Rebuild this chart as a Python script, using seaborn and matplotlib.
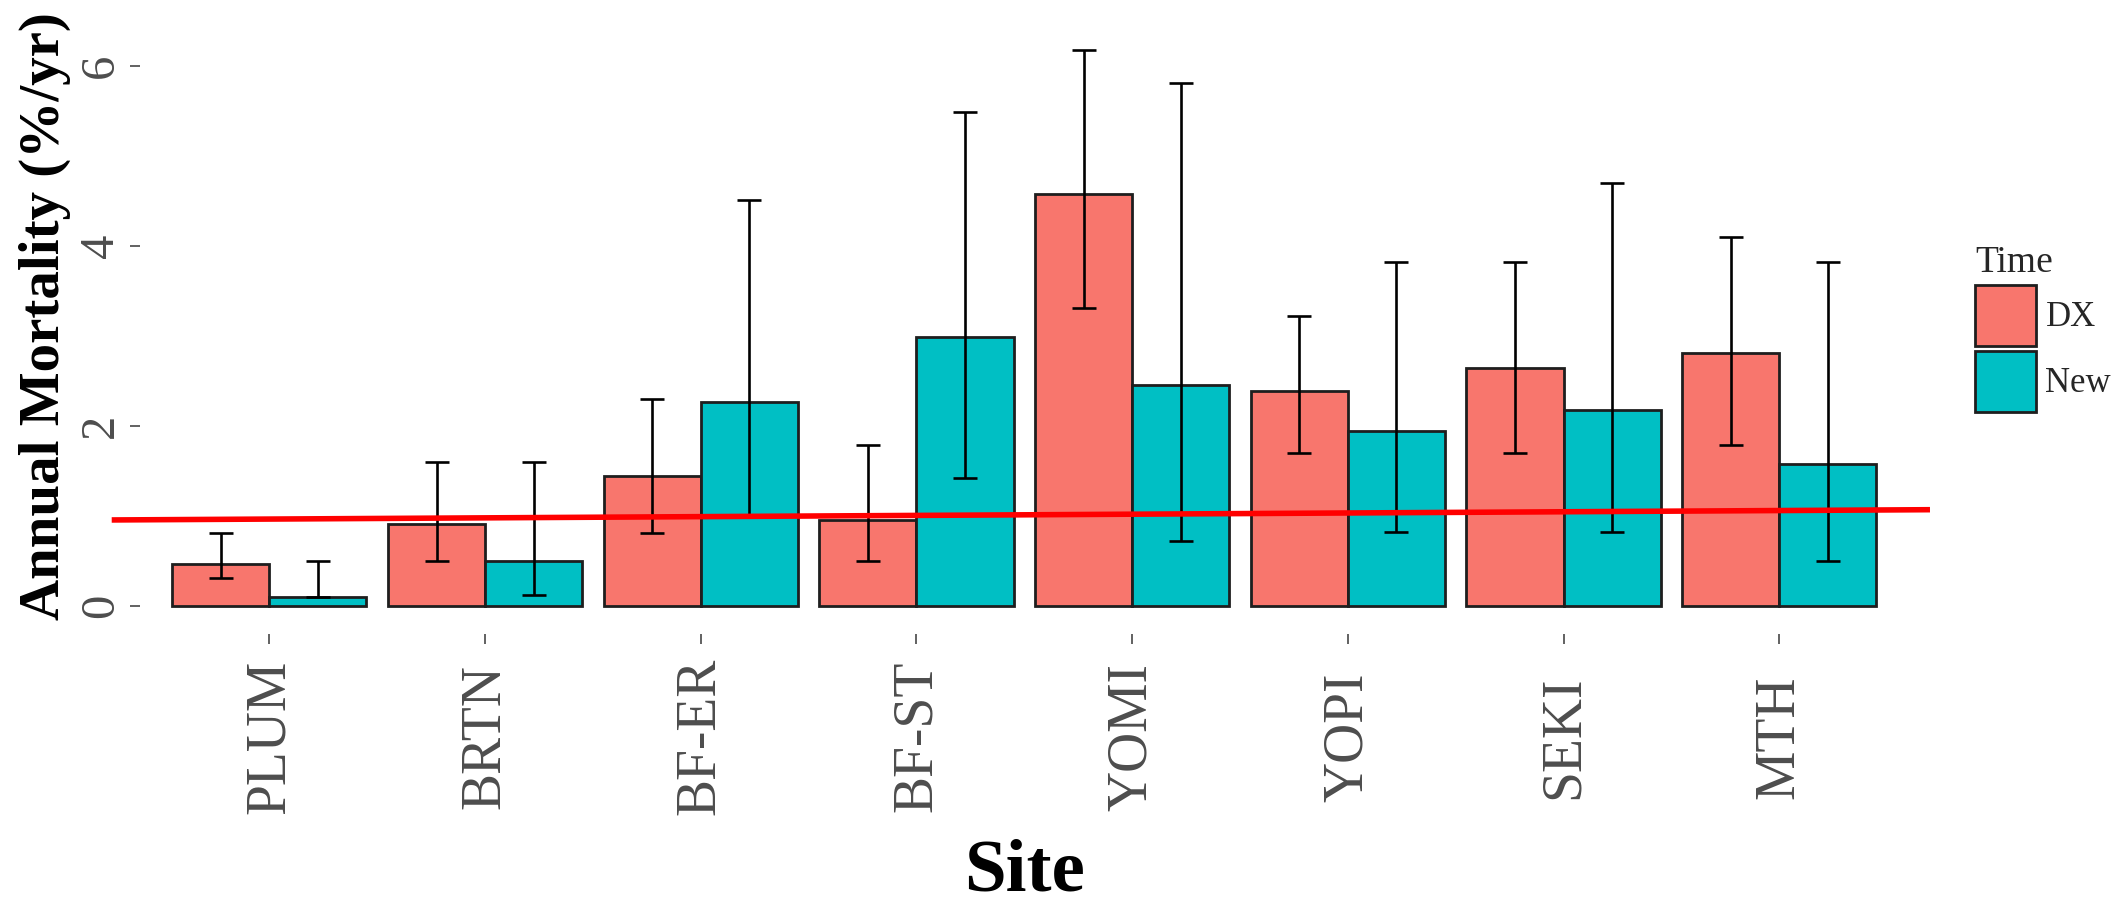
import matplotlib
matplotlib.use("Agg")
import matplotlib.pyplot as plt
import seaborn as sns
import pandas as pd

# Annual mortality by site, old (DX) and new census periods
sites = ["PLUM", "BRTN", "BF-ER", "BF-ST", "YOMI", "YOPI", "SEKI", "MTH"]
time_levels = ["DX", "New"]

dx_mean = [0.47, 0.91, 1.45, 0.96, 4.58, 2.39, 2.65, 2.81]
dx_low = [0.31, 0.50, 0.81, 0.50, 3.31, 1.70, 1.70, 1.79]
dx_high = [0.81, 1.60, 2.30, 1.79, 6.18, 3.22, 3.82, 4.10]

new_mean = [0.10, 0.50, 2.27, 2.99, 2.46, 1.95, 2.18, 1.58]
new_low = [0.10, 0.12, 1.00, 1.42, 0.72, 0.82, 0.82, 0.50]
new_high = [0.50, 1.60, 4.51, 5.49, 5.81, 3.82, 4.70, 3.82]

# Reference line endpoints (site-index units, %/yr)
ref_x = [-0.731, 7.699]
ref_y = [0.958, 1.072]

y_ticks = [0, 2, 4, 6]

palette = {"DX": "#F8766D", "New": "#00BFC4"}

df = pd.DataFrame({
    "Site": sites + sites,
    "Time": ["DX"] * len(sites) + ["New"] * len(sites),
    "Mortality": dx_mean + new_mean,
})

sns.set_style("white")
plt.rcParams["font.family"] = ["Liberation Serif", "DejaVu Serif"]

fig = plt.figure(figsize=(21.24, 9.07), dpi=100)
ax = fig.add_axes([0.0659, 0.30099, 0.8327, 0.67475])

sns.barplot(
    data=df, x="Site", y="Mortality", hue="Time",
    order=sites, hue_order=time_levels, palette=palette, saturation=1,
    width=0.9, errorbar=None, edgecolor="#1e1e1e", linewidth=2.0,
    ax=ax,
)

# asymmetric error bars centred on each bar
stats = {"DX": (dx_mean, dx_low, dx_high), "New": (new_mean, new_low, new_high)}
bar_containers = list(ax.containers)
for container, level in zip(bar_containers, time_levels):
    mean, low, high = stats[level]
    xs = [b.get_x() + b.get_width() / 2 for b in container]
    yerr = [[m - l for m, l in zip(mean, low)], [h - m for m, h in zip(mean, high)]]
    ax.errorbar(xs, mean, yerr=yerr, fmt="none", ecolor="black",
                elinewidth=1.9, capsize=8.3, capthick=1.9, zorder=5)

ax.plot(ref_x, ref_y, color="#ff0000", linewidth=4.0, zorder=10,
        clip_on=False, solid_capstyle="butt")

ax.set_xlim(-0.6, len(sites) - 0.4)
ax.set_ylim(-0.309, 6.49)
ax.set_yticks(y_ticks)
ax.set_yticklabels([str(t) for t in y_ticks], rotation=90, va="center")
ax.set_xticks(range(len(sites)))
ax.set_xticklabels(sites, rotation=90, va="center", ha="center")

for s in ax.spines.values():
    s.set_visible(False)
ax.grid(False)

ax.tick_params(axis="both", direction="out", length=7, width=1.3,
               color="#555555", labelcolor="#4d4d4d")
ax.tick_params(axis="y", labelsize=35, pad=5, left=True)
ax.tick_params(axis="x", labelsize=40, pad=67, bottom=True)

ax.set_xlabel("Site", fontsize=54, fontweight="bold", color="black")
ax.set_ylabel("Annual Mortality (%/yr)", fontsize=41, fontweight="bold",
              color="black")
ax.xaxis.set_label_coords(0.5, -0.389)
ax.xaxis.label.set_va("center")
ax.yaxis.set_label_coords(-0.0537, 0.52)
ax.yaxis.label.set_va("center")

handles, labels = ax.get_legend_handles_labels()
for h in handles:
    h.set_edgecolor("#1e1e1e")
    h.set_linewidth(2.0)
leg = ax.legend(
    handles, labels, title="Time", loc="upper left",
    bbox_to_anchor=(0.930, 0.729), bbox_transform=fig.transFigure,
    frameon=False, fontsize=25, title_fontsize=27,
    handlelength=1.76, handleheight=2.33, labelspacing=0.14,
    handletextpad=0.26, borderpad=0, borderaxespad=0, alignment="left",
)

fig.savefig("out.png", dpi=100, facecolor="white")
